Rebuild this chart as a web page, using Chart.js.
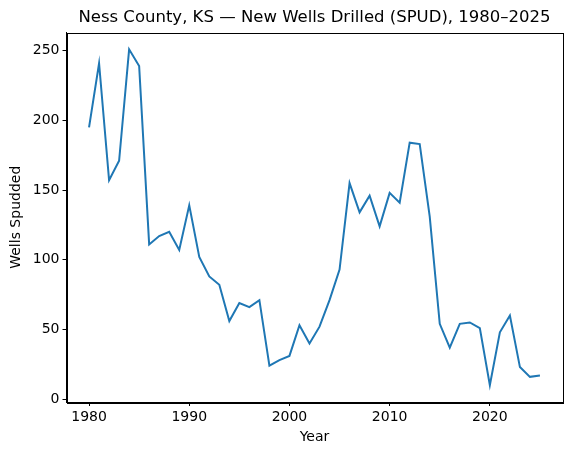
<!DOCTYPE html>
<html>
<head>
<meta charset="utf-8">
<script src="https://cdn.jsdelivr.net/npm/chart.js@4/dist/chart.umd.min.js"></script>
<style>
  html, body { margin: 0; padding: 0; background: #fff; }
  #wrap { width: 571px; height: 455px; }
</style>
</head>
<body>
<div id="wrap"><canvas id="wellsChart"></canvas></div>
<script>
// data
const years = [1980, 1981, 1982, 1983, 1984, 1985, 1986, 1987, 1988, 1989,
               1990, 1991, 1992, 1993, 1994, 1995, 1996, 1997, 1998, 1999,
               2000, 2001, 2002, 2003, 2004, 2005, 2006, 2007, 2008, 2009,
               2010, 2011, 2012, 2013, 2014, 2015, 2016, 2017, 2018, 2019,
               2020, 2021, 2022, 2023, 2024, 2025];
const wellsSpudded = [195, 241, 157, 171, 251, 239, 111, 117, 120, 107,
                      139, 102, 88, 82, 56, 69, 66, 71, 24, 28,
                      31, 53, 40, 52, 71, 93, 155, 134, 146, 124,
                      148, 141, 184, 183, 131, 54, 37, 54, 55, 51,
                      10, 48, 60, 23, 16, 17];
const xTickLabels = [1980, 1990, 2000, 2010, 2020];
const yTickLabels = [0, 50, 100, 150, 200, 250];

const font = 'DejaVu Sans';

// draws the full box round the plot, like the matplotlib axes frame
const frame = {
    id: 'frame',
    afterDraw(chart) {
        const a = chart.chartArea;
        const ctx = chart.ctx;
        ctx.save();
        ctx.strokeStyle = '#000';
        ctx.lineWidth = 1;
        ctx.strokeRect(Math.round(a.left) + 0.5, Math.round(a.top) + 0.5,
                       Math.round(a.right - a.left), Math.round(a.bottom - a.top));
        ctx.restore();
    }
};

const ctx = document.getElementById('wellsChart').getContext('2d');
new Chart(ctx, {
    type: 'line',
    data: {
        datasets: [{
            label: 'Wells Spudded',
            data: years.map((y, i) => ({ x: y, y: wellsSpudded[i] })),
            borderColor: '#1f77b4',
            borderWidth: 2,
            pointRadius: 0,
            fill: false,
            tension: 0
        }]
    },
    options: {
        responsive: true,
        maintainAspectRatio: false,
        animation: false,
        layout: { padding: { left: 0, right: 8.5, top: 0, bottom: 0 } },
        plugins: {
            legend: { display: false },
            tooltip: { enabled: false },
            title: {
                display: true,
                fullSize: false,
                text: 'Ness County, KS — New Wells Drilled (SPUD), 1980–2025',
                color: '#000',
                font: { family: font, size: 16.5, weight: 'normal', lineHeight: 1.2 },
                padding: { top: 7.6, bottom: 5.1 }
            }
        },
        scales: {
            x: {
                type: 'linear',
                min: 1977.75,
                max: 2027.25,
                afterBuildTicks: s => { s.ticks = xTickLabels.map(v => ({ value: v })); },
                afterFit: s => { s.height = 53; },
                grid: { drawOnChartArea: false, tickLength: 4, color: '#000', tickColor: '#000' },
                border: { display: true, color: '#000' },
                ticks: {
                    color: '#000',
                    padding: 3,
                    maxRotation: 0,
                    font: { family: font, size: 14 },
                    callback: v => String(v)
                },
                title: {
                    display: true,
                    text: 'Year',
                    color: '#000',
                    font: { family: font, size: 14 },
                    padding: { top: 2, bottom: 9 }
                }
            },
            y: {
                type: 'linear',
                min: -2.05,
                max: 263.05,
                afterBuildTicks: s => { s.ticks = yTickLabels.map(v => ({ value: v })); },
                afterFit: s => { s.width = 66.5; },
                grid: { drawOnChartArea: false, tickLength: 4, color: '#000', tickColor: '#000' },
                border: { display: true, color: '#000' },
                ticks: {
                    color: '#000',
                    padding: 3,
                    font: { family: font, size: 14 },
                    callback: v => String(v)
                },
                title: {
                    display: true,
                    text: 'Wells Spudded',
                    color: '#000',
                    font: { family: font, size: 14 },
                    padding: { top: 7.5, bottom: 4 }
                }
            }
        }
    },
    plugins: [frame]
});
</script>
</body>
</html>
